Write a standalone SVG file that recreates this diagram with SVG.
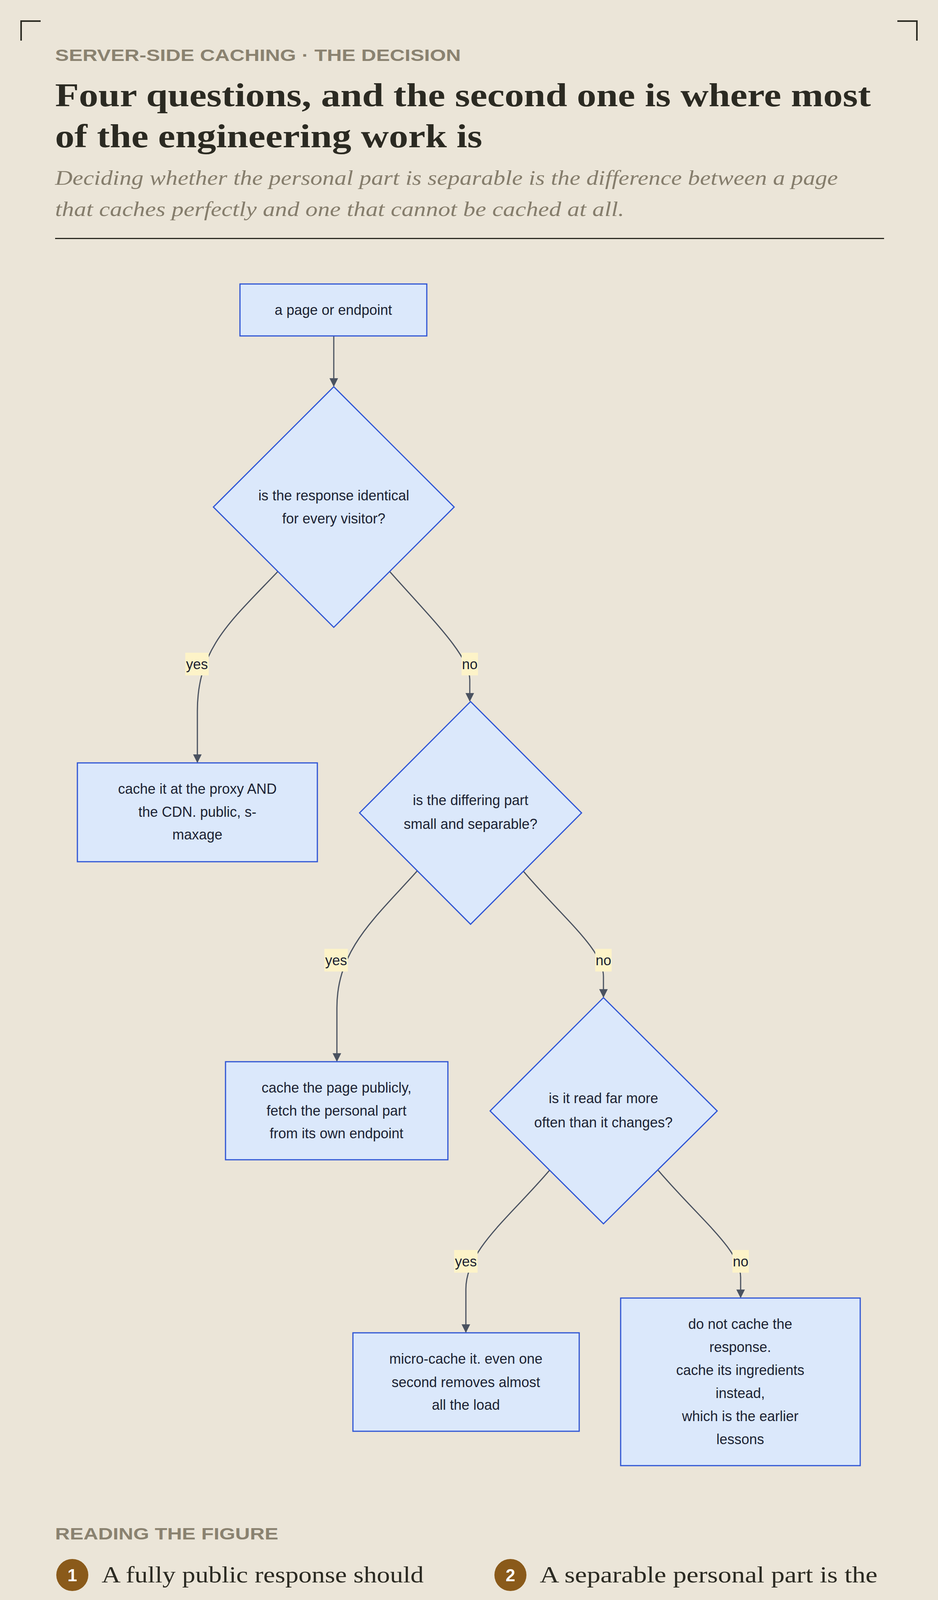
<svg xmlns="http://www.w3.org/2000/svg" width="2400" height="5526" viewBox="0 0 2400 5526">
<style>
.bg{fill:#ebe5d8}
.corner{fill:none;stroke:#2b2a22;stroke-width:4}
.kicker{font-family:"Liberation Sans",Arial,sans-serif;font-weight:bold;font-size:42px;fill:#8a8270}
.title{font-family:"Liberation Serif",serif;font-weight:bold;font-size:84px;fill:#2b2a22}
.sub{font-family:"Liberation Serif",serif;font-style:italic;font-size:52px;fill:#857d6c}
.node{fill:#dbe8fb;stroke:#2f55d4;stroke-width:3}
.nt{font-family:"Liberation Sans",Arial,sans-serif;font-size:36px;fill:#1b2233;text-anchor:middle}
.edge{fill:none;stroke:#4a5260;stroke-width:3}
.lbg{fill:#fdf3c8}
.lt{font-family:"Liberation Sans",Arial,sans-serif;font-size:36px;fill:#1b2233;text-anchor:middle}
.item{font-family:"Liberation Serif",serif;font-size:60px;fill:#2b2a22}
.num{fill:#8a5a1a}
.numt{font-family:"Liberation Sans",Arial,sans-serif;font-weight:bold;font-size:44px;fill:#fff;text-anchor:middle}
.h2{font-family:"Liberation Serif",serif;font-weight:bold;font-size:84px;fill:#2b2a22}
.body{font-family:"Liberation Serif",serif;font-size:64px;fill:#2b2a22}
.foot{font-family:"Liberation Serif",serif;font-weight:bold;font-size:40px;fill:#8a5a1a}
</style>
<defs>
<marker id="arr" viewBox="0 0 10 10" refX="9" refY="5" markerWidth="22" markerHeight="22" markerUnits="userSpaceOnUse" orient="auto">
<path d="M0,0 L10,5 L0,10 z" fill="#4a5260"/>
</marker>
</defs>
<rect class="bg" x="0" y="0" width="2400" height="5526"/>
<path class="corner" d="M54,104 V54 H104 M2296,54 H2346 V104 M54,5421 V5471 H104 M2296,5471 H2346 V5421"/>

<text class="kicker" x="141" y="156" textLength="1038" lengthAdjust="spacingAndGlyphs">SERVER-SIDE CACHING · THE DECISION</text>
<text class="title" x="141" y="272" textLength="2087" lengthAdjust="spacingAndGlyphs">Four questions, and the second one is where most</text>
<text class="title" x="141" y="377" textLength="1093" lengthAdjust="spacingAndGlyphs">of the engineering work is</text>
<text class="sub" x="141" y="473" textLength="2003" lengthAdjust="spacingAndGlyphs">Deciding whether the personal part is separable is the difference between a page</text>
<text class="sub" x="141" y="553" textLength="1456" lengthAdjust="spacingAndGlyphs">that caches perfectly and one that cannot be cached at all.</text>
<rect x="141" y="609" width="2121" height="3" fill="#2b2a22"/>

<g id="connectors">
<path class="edge" marker-end="url(#arr)" d="M854,860 V988"/>
<path class="edge" marker-end="url(#arr)" d="M711,1463 C590,1590 505,1660 505,1820 L505,1951"/>
<path class="edge" marker-end="url(#arr)" d="M997,1463 C1110,1590 1202,1680 1202,1740 L1202,1794"/>
<path class="edge" marker-end="url(#arr)" d="M1068,2229 C960,2350 862,2430 862,2580 L862,2716"/>
<path class="edge" marker-end="url(#arr)" d="M1338,2229 C1440,2350 1544,2430 1544,2500 L1544,2552"/>
<path class="edge" marker-end="url(#arr)" d="M1406,2996 C1300,3120 1192,3200 1192,3300 L1192,3410"/>
<path class="edge" marker-end="url(#arr)" d="M1684,2996 C1790,3120 1895,3200 1895,3270 L1895,3321"/>
<rect class="lbg" x="474" y="1671" width="60" height="58"/><text class="lt" x="504" y="1713">yes</text>
<rect class="lbg" x="1181" y="1671" width="42" height="58"/><text class="lt" x="1202" y="1713">no</text>
<rect class="lbg" x="830" y="2429" width="60" height="58"/><text class="lt" x="860" y="2471">yes</text>
<rect class="lbg" x="1523" y="2429" width="42" height="58"/><text class="lt" x="1544" y="2471">no</text>
<rect class="lbg" x="1162" y="3200" width="60" height="58"/><text class="lt" x="1192" y="3242">yes</text>
<rect class="lbg" x="1874" y="3200" width="42" height="58"/><text class="lt" x="1895" y="3242">no</text>
</g>

<g id="start"><rect class="node" x="614" y="727" width="478" height="133"/><text class="nt" x="853" y="806">a page or endpoint</text></g>
<g id="q1"><polygon class="node" points="854,990 1162,1298 854,1606 546,1298"/><text class="nt" x="854" y="1281">is the response identical</text><text class="nt" x="854" y="1340">for every visitor?</text></g>
<g id="cdn"><rect class="node" x="198" y="1953" width="614" height="253"/><text class="nt" x="505" y="2032">cache it at the proxy AND</text><text class="nt" x="505" y="2091">the CDN. public, s-</text><text class="nt" x="505" y="2149">maxage</text></g>
<g id="q2"><polygon class="node" points="1204,1796 1488,2081 1204,2366 920,2081"/><text class="nt" x="1204" y="2061">is the differing part</text><text class="nt" x="1204" y="2122">small and separable?</text></g>
<g id="split"><rect class="node" x="577" y="2718" width="569" height="251"/><text class="nt" x="861" y="2797">cache the page publicly,</text><text class="nt" x="861" y="2856">fetch the personal part</text><text class="nt" x="861" y="2914">from its own endpoint</text></g>
<g id="q3"><polygon class="node" points="1544,2554 1835,2844 1544,3133 1254,2844"/><text class="nt" x="1544" y="2824">is it read far more</text><text class="nt" x="1544" y="2886">often than it changes?</text></g>
<g id="micro"><rect class="node" x="903" y="3412" width="579" height="252"/><text class="nt" x="1192" y="3491">micro-cache it. even one</text><text class="nt" x="1192" y="3551">second removes almost</text><text class="nt" x="1192" y="3609">all the load</text></g>
<g id="nocache"><rect class="node" x="1588" y="3323" width="613" height="429"/><text class="nt" x="1894" y="3402">do not cache the</text><text class="nt" x="1894" y="3461">response.</text><text class="nt" x="1894" y="3520">cache its ingredients</text><text class="nt" x="1894" y="3579">instead,</text><text class="nt" x="1894" y="3638">which is the earlier</text><text class="nt" x="1894" y="3697">lessons</text></g>

<text class="kicker" x="141" y="3941" textLength="571" lengthAdjust="spacingAndGlyphs">READING THE FIGURE</text>
<g id="item1"><circle class="num" cx="185" cy="4032" r="41"/><text class="numt" x="185" y="4048">1</text>
<text class="item" x="260" y="4051" textLength="824" lengthAdjust="spacingAndGlyphs">A fully public response should</text>
<text class="item" x="260" y="4139" textLength="801" lengthAdjust="spacingAndGlyphs">be cached at both layers, and</text>
<text class="item" x="260" y="4227" textLength="380" lengthAdjust="spacingAndGlyphs">usually is not.</text></g>
<g id="item2"><circle class="num" cx="1306" cy="4032" r="41"/><text class="numt" x="1306" y="4048">2</text>
<text class="item" x="1381" y="4051" textLength="864" lengthAdjust="spacingAndGlyphs">A separable personal part is the</text>
<text class="item" x="1381" y="4139" textLength="809" lengthAdjust="spacingAndGlyphs">common case, and the split is</text>
<text class="item" x="1381" y="4227" textLength="560" lengthAdjust="spacingAndGlyphs">an ordinary API call.</text></g>
<g id="item3"><circle class="num" cx="185" cy="4337" r="41"/><text class="numt" x="185" y="4353">3</text>
<text class="item" x="260" y="4356" textLength="880" lengthAdjust="spacingAndGlyphs">Micro-caching covers pages that</text>
<text class="item" x="260" y="4444" textLength="770" lengthAdjust="spacingAndGlyphs">are technically dynamic and</text>
<text class="item" x="260" y="4532" textLength="429" lengthAdjust="spacingAndGlyphs">read constantly.</text></g>
<g id="item4"><circle class="num" cx="1306" cy="4337" r="41"/><text class="numt" x="1306" y="4353">4</text>
<text class="item" x="1381" y="4356" textLength="832" lengthAdjust="spacingAndGlyphs">And when none of that works,</text>
<text class="item" x="1381" y="4444" textLength="682" lengthAdjust="spacingAndGlyphs">the earlier lessons in this</text>
<text class="item" x="1381" y="4532" textLength="498" lengthAdjust="spacingAndGlyphs">chapter still apply.</text></g>

<rect x="141" y="4738" width="2121" height="2" fill="#c9c3b5"/>
<text class="h2" x="141" y="4865" textLength="603" lengthAdjust="spacingAndGlyphs">The single rule</text>
<text class="body" x="141" y="4980" textLength="2000" lengthAdjust="spacingAndGlyphs">Notice that the last branch is not a failure. Caching the ingredients is</text>
<text class="body" x="141" y="5079" textLength="1904" lengthAdjust="spacingAndGlyphs">what the application cache, the shared cache and the query cache</text>
<text class="body" x="141" y="5178" textLength="2034" lengthAdjust="spacingAndGlyphs">lessons were all about, and a page that cannot be cached whole is still</text>
<text class="body" x="141" y="5277" textLength="1525" lengthAdjust="spacingAndGlyphs">made much cheaper by caching what it is built from.</text>
<rect x="141" y="5362" width="21" height="20" fill="#8a5a1a"/>
<text class="foot" x="185" y="5385" textLength="706" lengthAdjust="spacingAndGlyphs">SYSTEMDESIGN.ACADEMY</text>
</svg>
